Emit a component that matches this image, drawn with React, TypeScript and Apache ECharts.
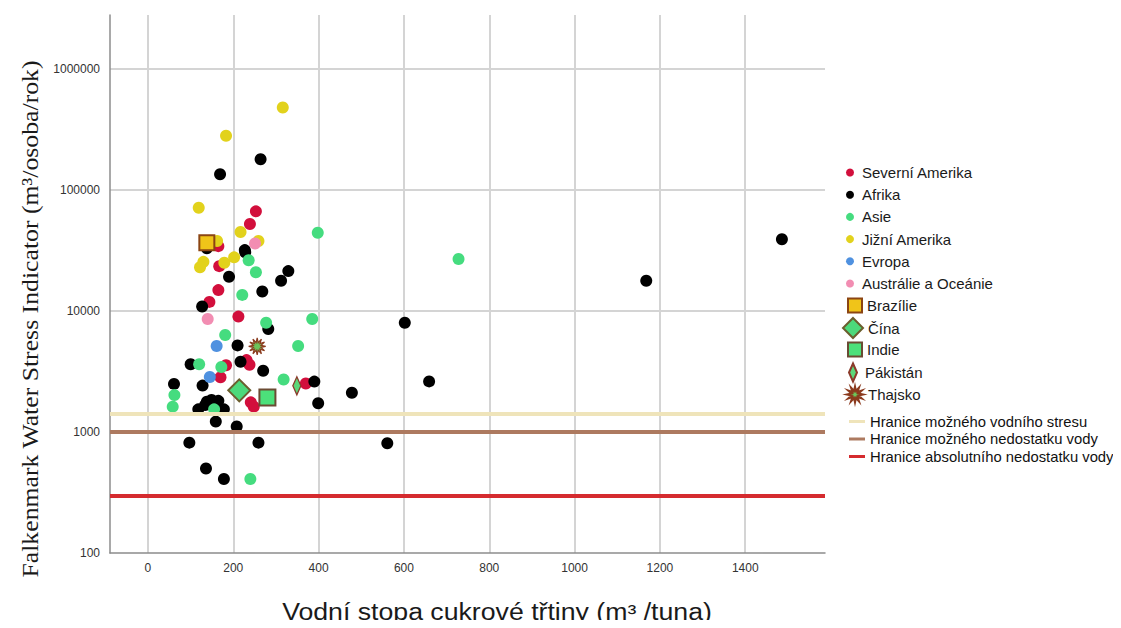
import { useEffect, useRef } from "react";
import * as echarts from "echarts";

// [vodní stopa (m3/t), Falkenmark indikátor (m3/osoba/rok)]
const severniAmerika: [number, number][] = [
  [253, 66700], [239, 52400], [165, 34400], [167, 23500], [165, 14900], [144, 11900],
  [212, 9000], [183, 3560], [231, 3930], [238, 3600], [170, 2830], [370, 2520],
  [241, 1760], [248, 1620],
];
const afrika: [number, number][] = [
  [264, 180000], [169, 135000], [227, 31900], [138, 33000], [228, 30600], [329, 21400],
  [312, 17800], [190, 19200], [268, 14500], [127, 10900], [282, 7100], [210, 5200],
  [100, 3630], [217, 3810], [270, 3210], [61, 2500], [128, 2420], [390, 2610],
  [399, 1730], [478, 2110], [138, 1780], [149, 1840], [165, 1810], [134, 1670],
  [118, 1540], [178, 1540], [159, 1220], [208, 1110], [97, 817], [259, 817],
  [136, 500], [178, 409], [602, 8000], [659, 2620], [561, 807], [1168, 17800],
  [1486, 39200],
];
const asie: [number, number][] = [
  [398, 44400], [236, 26300], [253, 20900], [221, 13600], [277, 8000], [385, 8600],
  [181, 6340], [352, 5140], [120, 3630], [172, 3450], [318, 2720], [62, 2020],
  [58, 1620], [155, 1540], [240, 409], [728, 26900],
];
const jizniAmerika: [number, number][] = [
  [316, 482000], [183, 281000], [119, 71400], [217, 45000], [162, 37900], [259, 37900],
  [130, 25500], [122, 23000], [179, 25100], [202, 27800],
];
const evropa: [number, number][] = [[161, 5140], [145, 2850]];
const australie: [number, number][] = [[251, 36200], [140, 8600]];
const brazilie: [number, number][] = [[138, 36700]];
const cina: [number, number][] = [[214, 2210]];
const indie: [number, number][] = [[280, 1930]];
const pakistan: [number, number][] = [[349, 2410]];
const thajsko: [number, number][] = [[256, 5100]];

const thresholdValues = [1420, 1000, 300];
const thresholdNames = [
  "Hranice možného vodního stresu",
  "Hranice možného nedostatku vody",
  "Hranice absolutního nedostatku vody",
];
const thresholdColors = ["#EFE4BA", "#AD7A60", "#D52B2F"];

const regionNames = ["Severní Amerika", "Afrika", "Asie", "Jižní Amerika", "Evropa", "Austrálie a Oceánie"];
const regionData = [severniAmerika, afrika, asie, jizniAmerika, evropa, australie];
const regionColors = ["#D20F3C", "#000000", "#45DC7F", "#E2D21C", "#4F91E0", "#F28DB2"];

function starPath(n: number, outer: number, inner: number): string {
  let d = "";
  for (let i = 0; i < 2 * n; i++) {
    const r = i % 2 === 0 ? outer : inner;
    const a = (i * Math.PI) / n - Math.PI / 2;
    const px = (outer + r * Math.cos(a)).toFixed(2);
    const py = (outer + r * Math.sin(a)).toFixed(2);
    d += (i === 0 ? "M" : "L") + px + " " + py + " ";
  }
  return "path://" + d + "Z";
}
const sunSymbol = starPath(12, 10, 4.6);
const thinDiamond = "path://M4 0 L8 9 L4 18 L0 9 Z";

const FONT = "'Liberation Sans', Arial, sans-serif";

export default function App() {
  const ref = useRef<HTMLDivElement>(null);
  useEffect(() => {
    if (!ref.current) return;
    const chart = echarts.init(ref.current, undefined, { renderer: "svg" });
    const series: any[] = [];
    regionNames.forEach((name, i) => {
      series.push({
        name,
        type: "scatter",
        data: regionData[i],
        symbol: "circle",
        symbolSize: 12,
        itemStyle: { color: regionColors[i], opacity: 1 },
        z: 2,
      });
    });
    series.push(
      {
        name: "Brazílie",
        type: "scatter",
        data: brazilie,
        symbol: "rect",
        symbolSize: 15,
        itemStyle: { color: "#F0C419", borderColor: "#8B4513", borderWidth: 2, opacity: 1 },
        z: 4,
      },
      {
        name: "Čína",
        type: "scatter",
        data: cina,
        symbol: "diamond",
        symbolSize: 22,
        itemStyle: { color: "#4CD97B", borderColor: "#6B5E2E", borderWidth: 2, opacity: 1 },
        z: 4,
      },
      {
        name: "Indie",
        type: "scatter",
        data: indie,
        symbol: "rect",
        symbolSize: 16,
        itemStyle: { color: "#4CE07A", borderColor: "#6B4B33", borderWidth: 2, opacity: 1 },
        z: 4,
      },
      {
        name: "Pákistán",
        type: "scatter",
        data: pakistan,
        symbol: thinDiamond,
        symbolSize: [8, 18],
        itemStyle: { color: "#5BD87A", borderColor: "#8B3A2A", borderWidth: 1.5, opacity: 1 },
        z: 4,
      },
      {
        name: "Thajsko",
        type: "scatter",
        data: thajsko,
        symbol: sunSymbol,
        symbolSize: 17,
        itemStyle: { color: "#6CC45A", borderColor: "#8B3A1E", borderWidth: 1.2, opacity: 1 },
        z: 4,
      }
    );
    thresholdNames.forEach((name, i) => {
      series.push({
        name,
        type: "line",
        data: [],
        color: thresholdColors[i],
        itemStyle: { color: thresholdColors[i] },
        lineStyle: { color: thresholdColors[i] },
        z: 3,
        markLine: {
          silent: true,
          symbol: ["none", "none"],
          label: { show: false },
          lineStyle: { color: thresholdColors[i], width: 4, type: "solid" },
          data: [{ yAxis: thresholdValues[i] }],
        },
      });
    });

    const legendText = { fontSize: 15, fontFamily: FONT, color: "#1a1a1a" };
    const option: any = {
      animation: false,
      backgroundColor: "#ffffff",
      grid: { left: 110, right: 296, top: 15, bottom: 75, containLabel: false },
      xAxis: {
        type: "value",
        min: -89,
        max: 1587,
        splitNumber: 8,
        axisLine: { show: true, onZero: false, lineStyle: { color: "#8c8c8c", width: 1.5 } },
        axisTick: { show: false },
        axisLabel: {
          color: "#333",
          fontSize: 12,
          fontFamily: FONT,
          margin: 9,
          showMinLabel: false,
          showMaxLabel: false,
          formatter: (v: number) => (Math.abs(v % 200) < 1e-6 ? String(v) : ""),
        },
        splitLine: {
          show: true,
          showMinLine: false,
          showMaxLine: false,
          lineStyle: { color: "#d4d4d4", width: 2 },
        },
      },
      yAxis: {
        type: "log",
        logBase: 10,
        min: 100,
        max: 2800000,
        axisLine: { show: true, onZero: false, lineStyle: { color: "#8c8c8c", width: 1.5 } },
        axisTick: { show: false },
        axisLabel: {
          color: "#333",
          fontSize: 12,
          fontFamily: FONT,
          margin: 10,
          showMaxLabel: false,
          formatter: (v: number) => {
            const l = Math.log10(v);
            return Math.abs(l - Math.round(l)) < 1e-6 ? String(Math.round(v)) : "";
          },
        },
        splitLine: {
          show: true,
          showMinLine: false,
          showMaxLine: false,
          lineStyle: { color: "#d4d4d4", width: 2 },
        },
      },
      legend: [
        {
          orient: "vertical",
          left: 841,
          top: 160,
          itemWidth: 14,
          itemHeight: 8,
          itemGap: 7.2,
          icon: "circle",
          selectedMode: false,
          textStyle: legendText,
          data: regionNames,
        },
        {
          orient: "vertical", left: 842, top: 292.5, itemWidth: 14, itemHeight: 14,
          selectedMode: false, textStyle: legendText, data: [{ name: "Brazílie", icon: "rect" }],
        },
        {
          orient: "vertical", left: 837, top: 312, itemWidth: 20, itemHeight: 20,
          selectedMode: false, textStyle: legendText, data: [{ name: "Čína", icon: "diamond" }],
        },
        {
          orient: "vertical", left: 842, top: 336.5, itemWidth: 14, itemHeight: 14,
          selectedMode: false, textStyle: legendText, data: [{ name: "Indie", icon: "rect" }],
        },
        {
          orient: "vertical", left: 843, top: 357.5, itemWidth: 14, itemHeight: 18,
          selectedMode: false, textStyle: legendText, data: [{ name: "Pákistán", icon: thinDiamond }],
        },
        {
          orient: "vertical", left: 841, top: 380.5, itemWidth: 16, itemHeight: 16,
          selectedMode: false, textStyle: legendText, data: [{ name: "Thajsko", icon: sunSymbol }],
        },
        {
          orient: "vertical",
          left: 844,
          top: 409,
          itemWidth: 16,
          itemHeight: 3,
          itemGap: 2.5,
          icon: "rect",
          selectedMode: false,
          textStyle: { fontSize: 14.8, fontFamily: FONT, color: "#111" },
          data: thresholdNames,
        },
      ],
      graphic: [
        {
          type: "text",
          x: 497,
          y: 612,
          scaleX: 1.16,
          style: {
            text: "Vodní stopa cukrové třtiny (m³ /tuna)",
            font: "23px 'Liberation Sans', Arial, sans-serif",
            fill: "#1a1a1a",
            textAlign: "center",
            textVerticalAlign: "middle",
          },
        },
        {
          type: "text",
          x: 30,
          y: 319,
          rotation: Math.PI / 2,
          scaleX: 1.12,
          style: {
            text: "Falkenmark Water Stress Indicator (m³/osoba/rok)",
            font: "23px 'Liberation Serif', 'Times New Roman', serif",
            fill: "#1a1a1a",
            textAlign: "center",
            textVerticalAlign: "middle",
          },
        },
      ],
      series,
    };
    chart.setOption(option);
    return () => chart.dispose();
  }, []);
  return <div ref={ref} style={{ width: 1121, height: 628, margin: -8 }} />;
}
